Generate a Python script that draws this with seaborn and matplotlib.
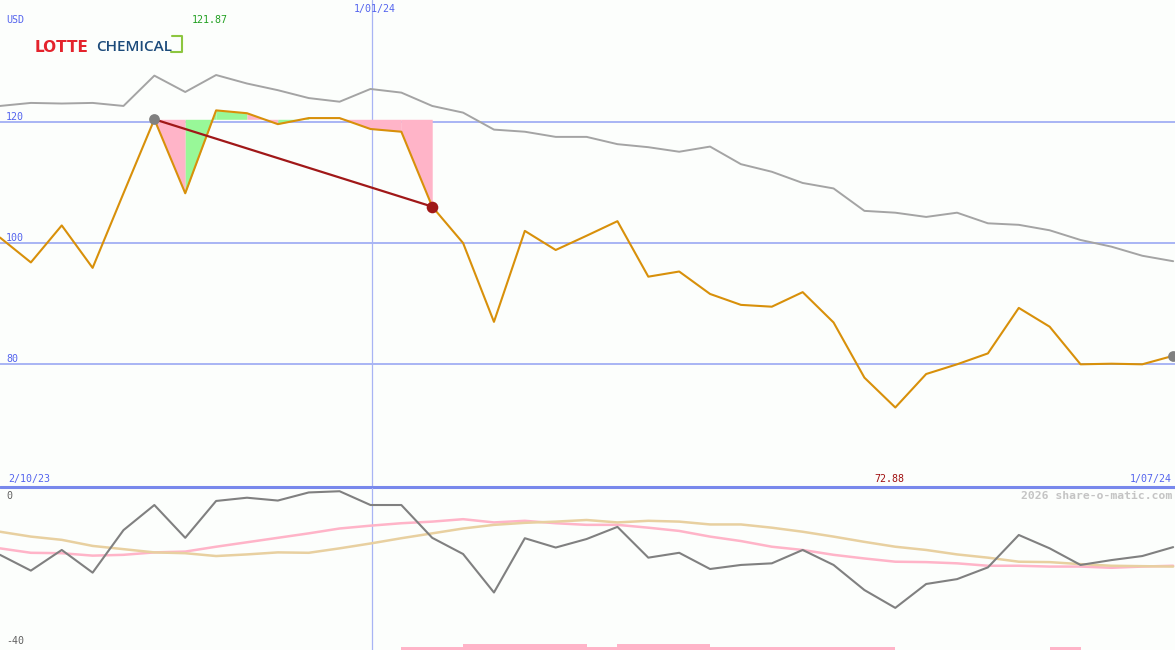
import numpy as np
import pandas as pd
import matplotlib
matplotlib.use("Agg")
import matplotlib.pyplot as plt
from matplotlib.lines import Line2D
from matplotlib.transforms import blended_transform_factory
import seaborn as sns

# ---------------- data (weekly points) ----------------
price = [100.9, 96.8, 102.9, 95.9, 108.2, 120.4, 108.2, 121.87, 121.4, 119.6,
         120.6, 120.6, 118.8, 118.35, 106.0, 100.0, 87.0, 102.0, 98.85, 101.2,
         103.6, 94.45, 95.3, 91.6, 89.8, 89.5, 91.9, 86.9, 77.8, 72.88,
         78.4, 80.0, 81.8, 89.3, 86.2, 80.0, 80.1, 80.0, 81.4]
index_line = [122.6, 123.1, 123.0, 123.1, 122.6, 127.6, 124.9, 127.7, 126.3, 125.2,
              123.9, 123.3, 125.4, 124.8, 122.6, 121.5, 118.7, 118.35, 117.5, 117.5,
              116.3, 115.8, 115.05, 115.9, 113.0, 111.75, 109.9, 109.0, 105.3, 105.0,
              104.3, 105.0, 103.25, 103.0, 102.1, 100.5, 99.4, 97.9, 97.0]
rel_strength = [-16.5, -20.4, -15.3, -20.9, -10.4, -4.2, -12.3, -3.2, -2.4, -3.1,
                -1.1, -0.8, -4.2, -4.2, -12.3, -16.3, -25.8, -12.4, -14.7, -12.6,
                -9.6, -17.2, -16.0, -20.0, -19.0, -18.6, -15.3, -19.0, -25.2, -29.6,
                -23.7, -22.5, -19.6, -11.6, -14.9, -19.0, -17.8, -16.8, -14.6]
avg_pink = [-14.9, -16.0, -16.1, -16.7, -16.5, -15.9, -15.7, -14.5, -13.4, -12.3,
            -11.2, -10.0, -9.3, -8.7, -8.3, -7.7, -8.5, -8.1, -8.7, -9.1,
            -9.1, -9.8, -10.6, -12.0, -13.1, -14.5, -15.3, -16.5, -17.4, -18.2,
            -18.3, -18.6, -19.2, -19.2, -19.4, -19.4, -19.7, -19.4, -19.2]
avg_tan = [-10.8, -12.0, -12.8, -14.3, -15.1, -15.9, -16.1, -16.8, -16.4, -15.9,
           -16.0, -14.9, -13.7, -12.4, -11.2, -10.0, -9.1, -8.6, -8.3, -7.9,
           -8.5, -8.1, -8.3, -9.0, -9.0, -9.8, -10.8, -12.0, -13.3, -14.5,
           -15.3, -16.4, -17.2, -18.2, -18.3, -18.8, -19.2, -19.3, -19.4]
# indicator strip per weekly interval: 0 none, 1 low, 2 high
strip_level = [0]*13 + [1, 1, 2, 2, 2, 2, 1, 2, 2, 2, 1, 1, 1, 1, 1, 1] + [0]*5 + [1, 0, 0, 0]
grid_levels = [120, 100, 80]
trade_start, trade_end = 5, 14
year_marker = 12.05
date_labels = ["2/10/23", "1/01/24", "1/07/24"]
currency = "USD"

weeks = np.arange(len(price))
df = pd.DataFrame({"week": weeks, "price": price, "index": index_line,
                   "rel": rel_strength, "pink": avg_pink, "tan": avg_tan})

W, H = 1175, 650
BG = "#fcfefc"
sns.set_theme(style="white")
plt.rcParams["font.family"] = ["DejaVu Sans Mono", "DejaVu Sans"]

fig = plt.figure(figsize=(W/100, H/100), dpi=100, facecolor=BG)
top_h = 487
ax = fig.add_axes([0, 1 - top_h/H, 1, top_h/H])
ax2 = fig.add_axes([0, 0, 1, 162/H])
for a in (ax, ax2):
    a.set_facecolor(BG)
    a.set_xlim(0, 38.06)
ax.set_ylim(59.77, 140.07)
ax2.set_ylim(-40, 0)

GRID = "#a8b4f4"
BLUE_TXT = "#5464ee"

# grid lines & year marker
for g in grid_levels:
    ax.axhline(g, color=GRID, lw=1.4, zorder=1)
for a in (ax, ax2):
    a.axvline(year_marker, color=GRID, lw=0.9, zorder=1)

# fills between price and trade start level
level = price[trade_start]
for i in range(trade_start, trade_end):
    col = "#98f898" if price[i+1] > level else "#ffb4c8"
    ax.fill_between(weeks[i:i+2], df["price"].iloc[i:i+2], level, color=col, lw=0, zorder=2)

sns.lineplot(data=df, x="week", y="index", ax=ax, color="#a4a4a4", lw=1.4, zorder=3)
sns.lineplot(data=df, x="week", y="price", ax=ax, color="#d8900a", lw=1.5, zorder=4)
ax.plot([weeks[trade_start], weeks[trade_end]], [price[trade_start], price[trade_end]],
        color="#a01818", lw=1.6, zorder=5)
ax.scatter([weeks[trade_start], weeks[-1]], [price[trade_start], price[-1]], s=60,
           color="#808080", zorder=6, lw=0)
ax.scatter([weeks[trade_end]], [price[trade_end]], s=70, color="#a01818", zorder=6, lw=0)
ax.axhline(59.77, color="#7888ec", lw=2.2, zorder=7, clip_on=False)

# lower panel
sns.lineplot(data=df, x="week", y="pink", ax=ax2, color="#ffb4c8", lw=1.8, zorder=3)
sns.lineplot(data=df, x="week", y="tan", ax=ax2, color="#e8d0a0", lw=1.8, zorder=3)
sns.lineplot(data=df, x="week", y="rel", ax=ax2, color="#808080", lw=1.5, zorder=4)
for i, lv in enumerate(strip_level):
    if lv:
        ax2.fill_between([weeks[i], weeks[i+1]], -40, -40 + 0.75*lv, color="#ffb4c8", lw=0, zorder=2)

for a in (ax, ax2):
    a.set_axis_off()

# text helpers (pixel coords)
def T(x, y, s, **kw):
    kw.setdefault("fontsize", 7.2)
    kw.setdefault("va", "center")
    fig.text(x/W, 1 - y/H, s, **kw)

trans = blended_transform_factory(fig.transFigure, ax.transData)
for g in grid_levels:
    ax.text(6/W, g, str(g), transform=trans, fontsize=7.2, color=BLUE_TXT, va="bottom")

T(6, 20, currency, color=BLUE_TXT)
T(375, 9, date_labels[1], color=BLUE_TXT, ha="center")
T(8, 479, date_labels[0], color=BLUE_TXT)
T(1172, 479, date_labels[2], color=BLUE_TXT, ha="right")
imax = int(np.argmax(price)); imin = int(np.argmin(price))
tb = blended_transform_factory(ax.transData, fig.transFigure)
ax.text(imax - 0.2, 1 - 20/H, f"{price[imax]:.2f}", transform=tb, fontsize=7.2,
        color="#22a022", ha="center", va="center")
ax.text(imin - 0.2, 1 - 479/H, f"{price[imin]:.2f}", transform=tb, fontsize=7.2,
        color="#a01010", ha="center", va="center")
T(6, 496, "0", color="#606060")
T(6, 641, "-40", color="#606060")
T(1172, 496, "2026 share-o-matic.com", color="#c4c4c4", ha="right", fontsize=8.2,
  fontweight="bold")

# logo
T(35, 47, "LOTTE", color="#e4232c", fontsize=11, fontweight="bold",
  family=["DejaVu Sans"])
T(96, 47, "CHEMICAL", color="#1b4a7a", fontsize=11, fontweight="semibold",
  family=["Open Sans", "DejaVu Sans"])
bx = [172, 182, 182, 171]
by = [36, 36, 52, 52]
fig.add_artist(Line2D([x/W for x in bx], [1 - y/H for y in by], color="#8cc63f", lw=1.5,
                      transform=fig.transFigure))

fig.savefig("out.png", dpi=100, facecolor=BG)
